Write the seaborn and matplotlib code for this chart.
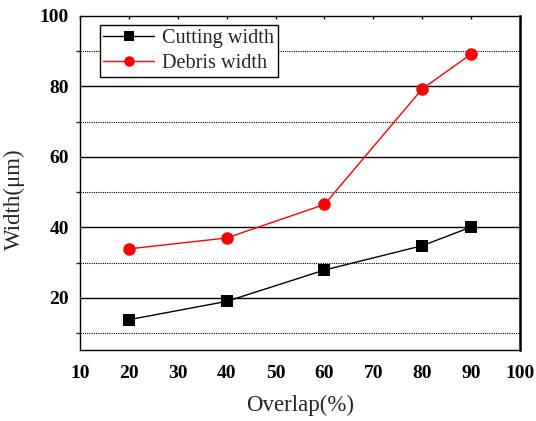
import matplotlib
matplotlib.use("Agg")
import matplotlib.pyplot as plt
import seaborn as sns
import pandas as pd
import numpy as np

overlap = [20, 40, 60, 80, 90]
cutting_width = [13.8, 19.0, 27.9, 34.8, 40.1]
debris_width = [33.9, 37.0, 46.5, 79.3, 89.2]
series_names = ["Cutting width", "Debris width"]

sns.set_theme(style="white")
plt.rcParams['font.family'] = ['Liberation Serif', 'DejaVu Serif']

df = pd.DataFrame({
    "Overlap": overlap * 2,
    "Width": cutting_width + debris_width,
    "Series": [series_names[0]] * len(overlap) + [series_names[1]] * len(overlap),
})

fig = plt.figure(figsize=(5.36, 4.21), dpi=100)
ax = fig.add_axes([80/536, 1 - 350/421, 440/536, 334/421])

# grid lines
for y in [20, 40, 60, 80]:
    ax.axhline(y, color="black", lw=1.0, zorder=1)
for y in [10, 30, 50, 70, 90]:
    ax.axhline(y, color="black", lw=0.8, ls=(0, (1, 1)), zorder=1)

palette = {series_names[0]: "black", series_names[1]: "red"}
markers = {series_names[0]: "s", series_names[1]: "o"}
sns.lineplot(data=df, x="Overlap", y="Width", hue="Series", style="Series",
             palette=palette, markers=markers, dashes=False, markersize=9,
             markeredgewidth=0, linewidth=1.0, ax=ax, zorder=3)

ax.set_xlim(10, 100)
ax.set_ylim(5.2, 100)
ax.set_xticks(np.arange(10, 101, 10))
ax.set_yticks([20, 40, 60, 80, 100])
ax.set_yticks([10, 30, 50, 70, 90], minor=True)
ax.tick_params(axis="both", which="major", direction="out", length=5, width=1,
               labelsize=14, colors="black", pad=3)
ax.tick_params(axis="x", which="major", pad=6)
ax.tick_params(axis="y", which="minor", direction="out", length=3, width=1, left=True)
ax.tick_params(axis="x", which="major", top=True)
for t in ax.xaxis.get_major_ticks():
    t.tick2line.set_markersize(2.5)
    t.tick2line.set_marker(3)  # tick pointing down from top spine (inward)
for lab in ax.get_xticklabels() + ax.get_yticklabels():
    lab.set_fontweight("bold")
ax.set_xlabel("Overlap(%)", fontsize=16.5, labelpad=9)
ax.set_ylabel("Width(\u03bcm)", fontsize=16.5)
ax.yaxis.set_label_coords(-0.125, 0.452)

for s in ax.spines.values():
    s.set_color("black")
    s.set_linewidth(1.0)
ax.spines["right"].set_linewidth(1.8)

leg = ax.legend(loc="upper left", bbox_to_anchor=(0.045, 0.973), borderaxespad=0,
                fontsize=14.6, frameon=True, fancybox=False, edgecolor="black",
                framealpha=1, handlelength=2.5, borderpad=0.18, labelspacing=0.3,
                handletextpad=0.4)
leg.get_frame().set_linewidth(1.0)
for h in leg.legend_handles:
    h.set_markersize(7.5)

fig.savefig("out.png", dpi=100)
